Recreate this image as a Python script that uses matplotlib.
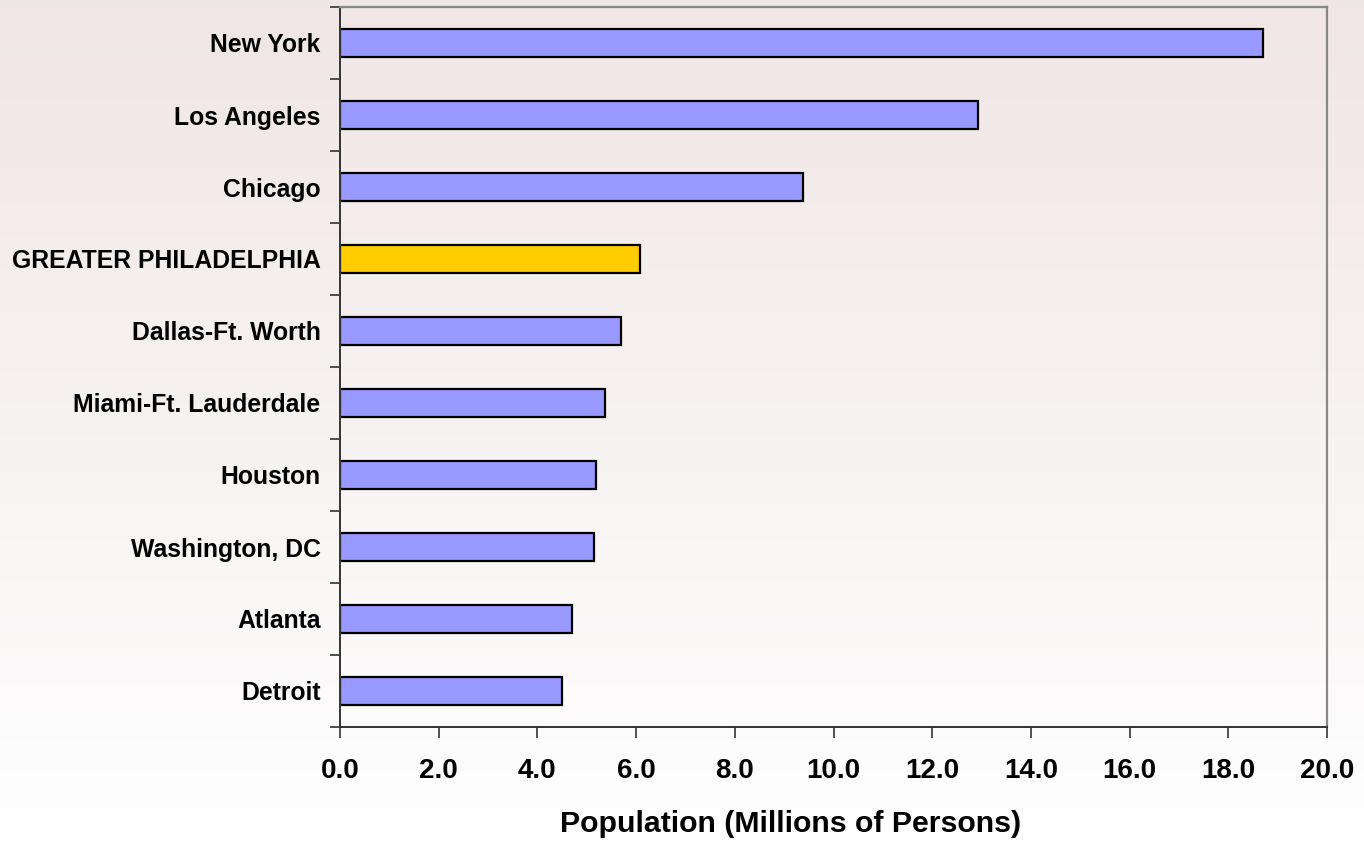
import numpy as np
import matplotlib
matplotlib.use("Agg")
import matplotlib.pyplot as plt
from matplotlib.ticker import FixedLocator

plt.rcParams['font.family'] = ['Liberation Sans', 'DejaVu Sans']
plt.rcParams['font.weight'] = 'bold'

cities = ["New York", "Los Angeles", "Chicago", "GREATER PHILADELPHIA",
          "Dallas-Ft. Worth", "Miami-Ft. Lauderdale", "Houston",
          "Washington, DC", "Atlanta", "Detroit"]
population = [18.70, 12.93, 9.38, 6.07, 5.70, 5.36, 5.18, 5.14, 4.71, 4.49]
highlight = "GREATER PHILADELPHIA"

fig = plt.figure(figsize=(13.64, 8.43), dpi=100)

# background gradient over the whole figure
bg = fig.add_axes([0, 0, 1, 1], zorder=-10)
top = np.array([0.937, 0.902, 0.898])
bot = np.array([1.0, 1.0, 1.0])
t = np.linspace(0, 1, 256)[:, None]
grad = top * (1 - t) + bot * t
bg.imshow(grad[:, None, :], aspect='auto', extent=[0, 1, 0, 1])
bg.axis('off')

ax = fig.add_axes([340 / 1364, 116 / 843, 987 / 1364, 720 / 843])
ax.patch.set_alpha(0)

y = np.arange(len(cities))
colors = ["#FFCC00" if c == highlight else "#9999FF" for c in cities]
ax.barh(y, population, height=0.39, color=colors, edgecolor="black", linewidth=1.6)

ax.set_ylim(len(cities) - 0.5, -0.5)
ax.set_xlim(0, 20)
ax.set_xticks(np.arange(0, 21, 2))
ax.set_xticklabels([f"{v:.1f}" for v in np.arange(0, 21, 2)], fontsize=20, fontweight='bold')
ax.set_yticks(y)
ax.set_yticklabels(cities, fontsize=17.8, fontweight='bold')
ax.yaxis.set_minor_locator(FixedLocator(np.arange(-0.5, len(cities), 1)))
ax.tick_params(axis='y', which='major', length=0, pad=14)
ax.tick_params(axis='y', which='minor', length=7, width=1.2, color="#333333", direction='out')
ax.tick_params(axis='x', which='major', length=8, width=1.2, color="#333333", direction='out', pad=14)

for s in ["left", "bottom"]:
    ax.spines[s].set_color("#333333")
    ax.spines[s].set_linewidth(1.4)
for s in ["top", "right"]:
    ax.spines[s].set_color("#888888")
    ax.spines[s].set_linewidth(1.6)

ax.set_xlabel("Population (Millions of Persons)", fontsize=21.8, fontweight='bold')
ax.xaxis.set_label_coords(0.456, -0.115)

fig.savefig("out.png", dpi=100)
